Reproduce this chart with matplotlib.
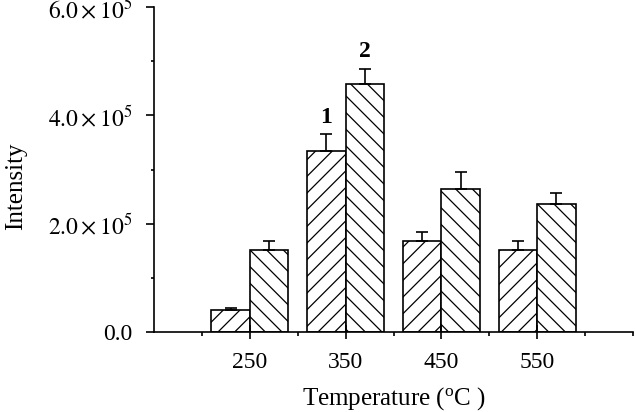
import numpy as np
import matplotlib.pyplot as plt
from matplotlib.ticker import FixedLocator

# Data
temps = [250, 350, 450, 550]
series1 = [0.40e5, 3.35e5, 1.69e5, 1.51e5]
err1 = [0.04e5, 0.30e5, 0.15e5, 0.17e5]
series2 = [1.51e5, 4.58e5, 2.64e5, 2.37e5]
err2 = [0.17e5, 0.28e5, 0.32e5, 0.20e5]
ytick_vals = [0, 2e5, 4e5, 6e5]
ytick_labels = ['0.0', r'$2.0\times10^{5}$', r'$4.0\times10^{5}$', r'$6.0\times10^{5}$']

plt.rcParams['font.family'] = 'Liberation Serif'
plt.rcParams['mathtext.fontset'] = 'stix'
plt.rcParams['hatch.linewidth'] = 0.9

fig = plt.figure(figsize=(6.35, 4.12), dpi=100)
ax = fig.add_axes([0.2425, 0.194, 0.7545, 0.789])

w = 40
x = np.array(temps)
ekw = dict(ecolor='black', elinewidth=1.2, capsize=4, capthick=1.2)
ax.bar(x - w / 2, series1, w, yerr=[np.zeros(4), err1], color='white', edgecolor='black',
       hatch='//', linewidth=1.2, error_kw=ekw)
ax.bar(x + w / 2, series2, w, yerr=[np.zeros(4), err2], color='white', edgecolor='black',
       hatch='\\\\', linewidth=1.2, error_kw=ekw)

ax.text(x[1] - w / 2, series1[1] + err1[1] + 0.12e5, '1', ha='center', va='bottom',
        fontsize=17, fontweight='bold')
ax.text(x[1] + w / 2, series2[1] + err2[1] + 0.12e5, '2', ha='center', va='bottom',
        fontsize=17, fontweight='bold')

ax.set_xlim(150, 650)
ax.set_ylim(0, 6e5)
ax.set_xticks(temps)
ax.set_xticklabels([str(t) for t in temps])
ax.xaxis.set_minor_locator(FixedLocator([200, 300, 400, 500, 600, 650]))
ax.set_yticks(ytick_vals)
ax.set_yticklabels(ytick_labels)
ax.yaxis.set_minor_locator(FixedLocator([1e5, 3e5, 5e5]))

ax.spines['top'].set_visible(False)
ax.spines['right'].set_visible(False)
for s in ['left', 'bottom']:
    ax.spines[s].set_linewidth(1.2)

ax.tick_params(axis='x', which='major', direction='inout', length=10, width=1.2, labelsize=17, pad=9)
ax.tick_params(axis='x', which='minor', direction='out', length=3, width=1.2)
ax.tick_params(axis='y', which='major', direction='out', length=5.5, width=1.2, labelsize=17, pad=10)
ax.tick_params(axis='y', which='minor', direction='out', length=2.5, width=1.2)

ax.set_xlabel(r'Temperature ($\mathregular{^o}$C )', fontsize=18)
ax.set_ylabel('Intensity', fontsize=18)
ax.xaxis.set_label_coords(0.5, -0.163)
ax.yaxis.set_label_coords(-0.265, 0.45)

fig.savefig('out.png', dpi=100)
